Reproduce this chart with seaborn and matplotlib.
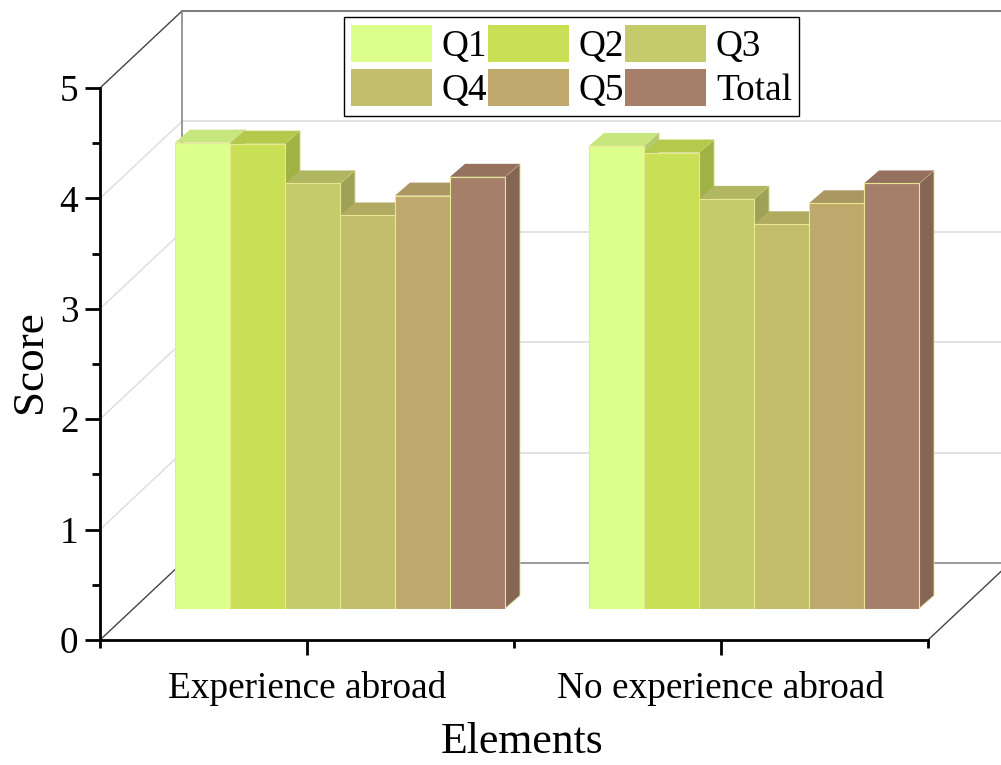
import matplotlib
matplotlib.use("Agg")
import matplotlib.pyplot as plt
from matplotlib.colors import to_rgb
from matplotlib.patches import Polygon
from matplotlib.ticker import MultipleLocator
import seaborn as sns
import pandas as pd

groups = ["Experience abroad", "No experience abroad"]
questions = ["Q1", "Q2", "Q3", "Q4", "Q5", "Total"]
experience = [4.22, 4.21, 3.85, 3.56, 3.74, 3.91]
no_experience = [4.19, 4.13, 3.71, 3.48, 3.67, 3.85]
colors = ["#DDFF8C", "#C9DF55", "#C5CA6B", "#C3BE6C", "#BEA86C", "#A67F6A"]

# depth of the fake 3D box, in data units of the front plane
px_x = 414.0
px_y = 110.4
wall_dx = 82 / px_x
wall_dy = 77 / px_y
bar_dx = 15 / px_x
bar_dy = 13 / px_y

df = pd.DataFrame({
    "group": [groups[0]] * 6 + [groups[1]] * 6,
    "question": questions * 2,
    "score": experience + no_experience,
})

sns.set_theme(style="white")
plt.rcParams["font.family"] = ["Liberation Serif", "DejaVu Serif"]

W, H = 1001, 765
fig = plt.figure(figsize=(W / 100, H / 100), dpi=100)
ax = fig.add_axes([100 / W, (H - 640) / H, 828 / W, 552 / H])
ax_bar = fig.add_axes([133 / W, (H - 608.5) / H, 828 / W, 552 / H])
ax_bar.patch.set_alpha(0)

# walls
ax.set_xlim(-0.5, 1.5)
ax.set_ylim(0, 5)
x0, x1 = -0.5, 1.5
for v in range(0, 6):
    back = v + wall_dy
    grid = "#dcdcdc"
    if v == 0:
        ax.plot([x0 + wall_dx, x1 + wall_dx], [back, back], color="#888888", lw=1.2, clip_on=False, zorder=1)
        ax.plot([x0, x0 + wall_dx], [v, back], color="#444444", lw=1, clip_on=False, zorder=1)
        ax.plot([x1, x1 + wall_dx], [v, back], color="#444444", lw=1, clip_on=False, zorder=1)
    elif v == 5:
        ax.plot([x0 + wall_dx, x1 + wall_dx], [back, back], color="#666666", lw=1.2, clip_on=False, zorder=1)
        ax.plot([x0, x0 + wall_dx], [v, back], color="#444444", lw=1, clip_on=False, zorder=1)
    else:
        ax.plot([x0 + wall_dx, x1 + wall_dx], [back, back], color=grid, lw=1.2, clip_on=False, zorder=1)
        ax.plot([x0, x0 + wall_dx], [v, back], color=grid, lw=1, clip_on=False, zorder=1)
ax.plot([x0 + wall_dx, x0 + wall_dx], [wall_dy, 5 + wall_dy], color="#888888", lw=1.2, clip_on=False, zorder=1)

# bars
sns.barplot(data=df, x="group", y="score", hue="question", order=groups, hue_order=questions,
            palette=colors, width=0.797, gap=0, edgecolor="#E8E890", linewidth=0.8, saturation=1,
            ax=ax_bar, legend=True)
ax_bar.set_xlim(-0.5, 1.5)
ax_bar.set_ylim(0, 5)
handles, labels = ax_bar.get_legend_handles_labels()
ax_bar.get_legend().remove()
ax_bar.axis("off")

bars = []
for c in ax_bar.containers:
    bars.extend(list(c))
bars = [b for b in bars if b.get_height() > 0]
bars.sort(key=lambda b: b.get_x())


def shade(col, k):
    return tuple(k * c for c in col[:3])


for i, b in enumerate(bars):
    col = to_rgb(b.get_facecolor()[:3])
    xl = b.get_x()
    xr = xl + b.get_width()
    top = b.get_height()
    b.set_zorder(3 + 2 * i)
    side = Polygon([(xr, 0), (xr + bar_dx, bar_dy), (xr + bar_dx, top + bar_dy), (xr, top)],
                   facecolor=shade(col, 0.8), edgecolor="#D8D890", lw=0.6, clip_on=False, zorder=2 + 2 * i)
    lid = Polygon([(xl, top), (xl + bar_dx, top + bar_dy), (xr + bar_dx, top + bar_dy), (xr, top)],
                  facecolor=shade(col, 0.9), edgecolor="none", clip_on=False, zorder=2 + 2 * i)
    ax_bar.add_patch(side)
    ax_bar.add_patch(lid)

# axes
ax.set_xticks([0, 1])
ax.set_xticklabels(groups)
ax.xaxis.set_minor_locator(MultipleLocator(0.5))
ax.yaxis.set_major_locator(MultipleLocator(1))
ax.yaxis.set_minor_locator(MultipleLocator(0.5))
ax.tick_params(axis="both", which="major", direction="out", length=10.5, width=2, colors="black",
               labelsize=26.8, bottom=True, left=True)
ax.tick_params(axis="both", which="minor", direction="out", length=6, width=2, colors="black",
               bottom=True, left=True)
ax.tick_params(axis="x", which="major", pad=12)
ax.tick_params(axis="y", which="major", pad=5)
ax.set_xlabel("Elements", fontsize=31.5, labelpad=11.5, color="black", x=(522 - 100) / 828)
ax.set_ylabel("Score", fontsize=32.5, labelpad=7, color="black", y=0.505)
sns.despine(ax=ax)
for s in ["left", "bottom"]:
    ax.spines[s].set_linewidth(2)
    ax.spines[s].set_color("black")
    ax.spines[s].set_zorder(50)

# legend row by row
order = [0, 3, 1, 4, 2, 5]
leg = ax_bar.legend([handles[i] for i in order], [labels[i] for i in order], ncol=3,
                    loc="center", bbox_to_anchor=(571.5 / W, 1 - 66.5 / H), bbox_transform=fig.transFigure,
                    fontsize=26.8, frameon=True, fancybox=False, framealpha=1, edgecolor="black",
                    handlelength=2.16, handleheight=1.15, handletextpad=0.27, columnspacing=0.03,
                    labelspacing=0.14, borderpad=0.2, borderaxespad=0)
leg.get_frame().set_linewidth(1)
leg.set_zorder(60)
for h in leg.get_patches():
    h.set_edgecolor("none")
for t in leg.get_texts():
    t.set_color("black")

fig.savefig("out.png", dpi=100)
